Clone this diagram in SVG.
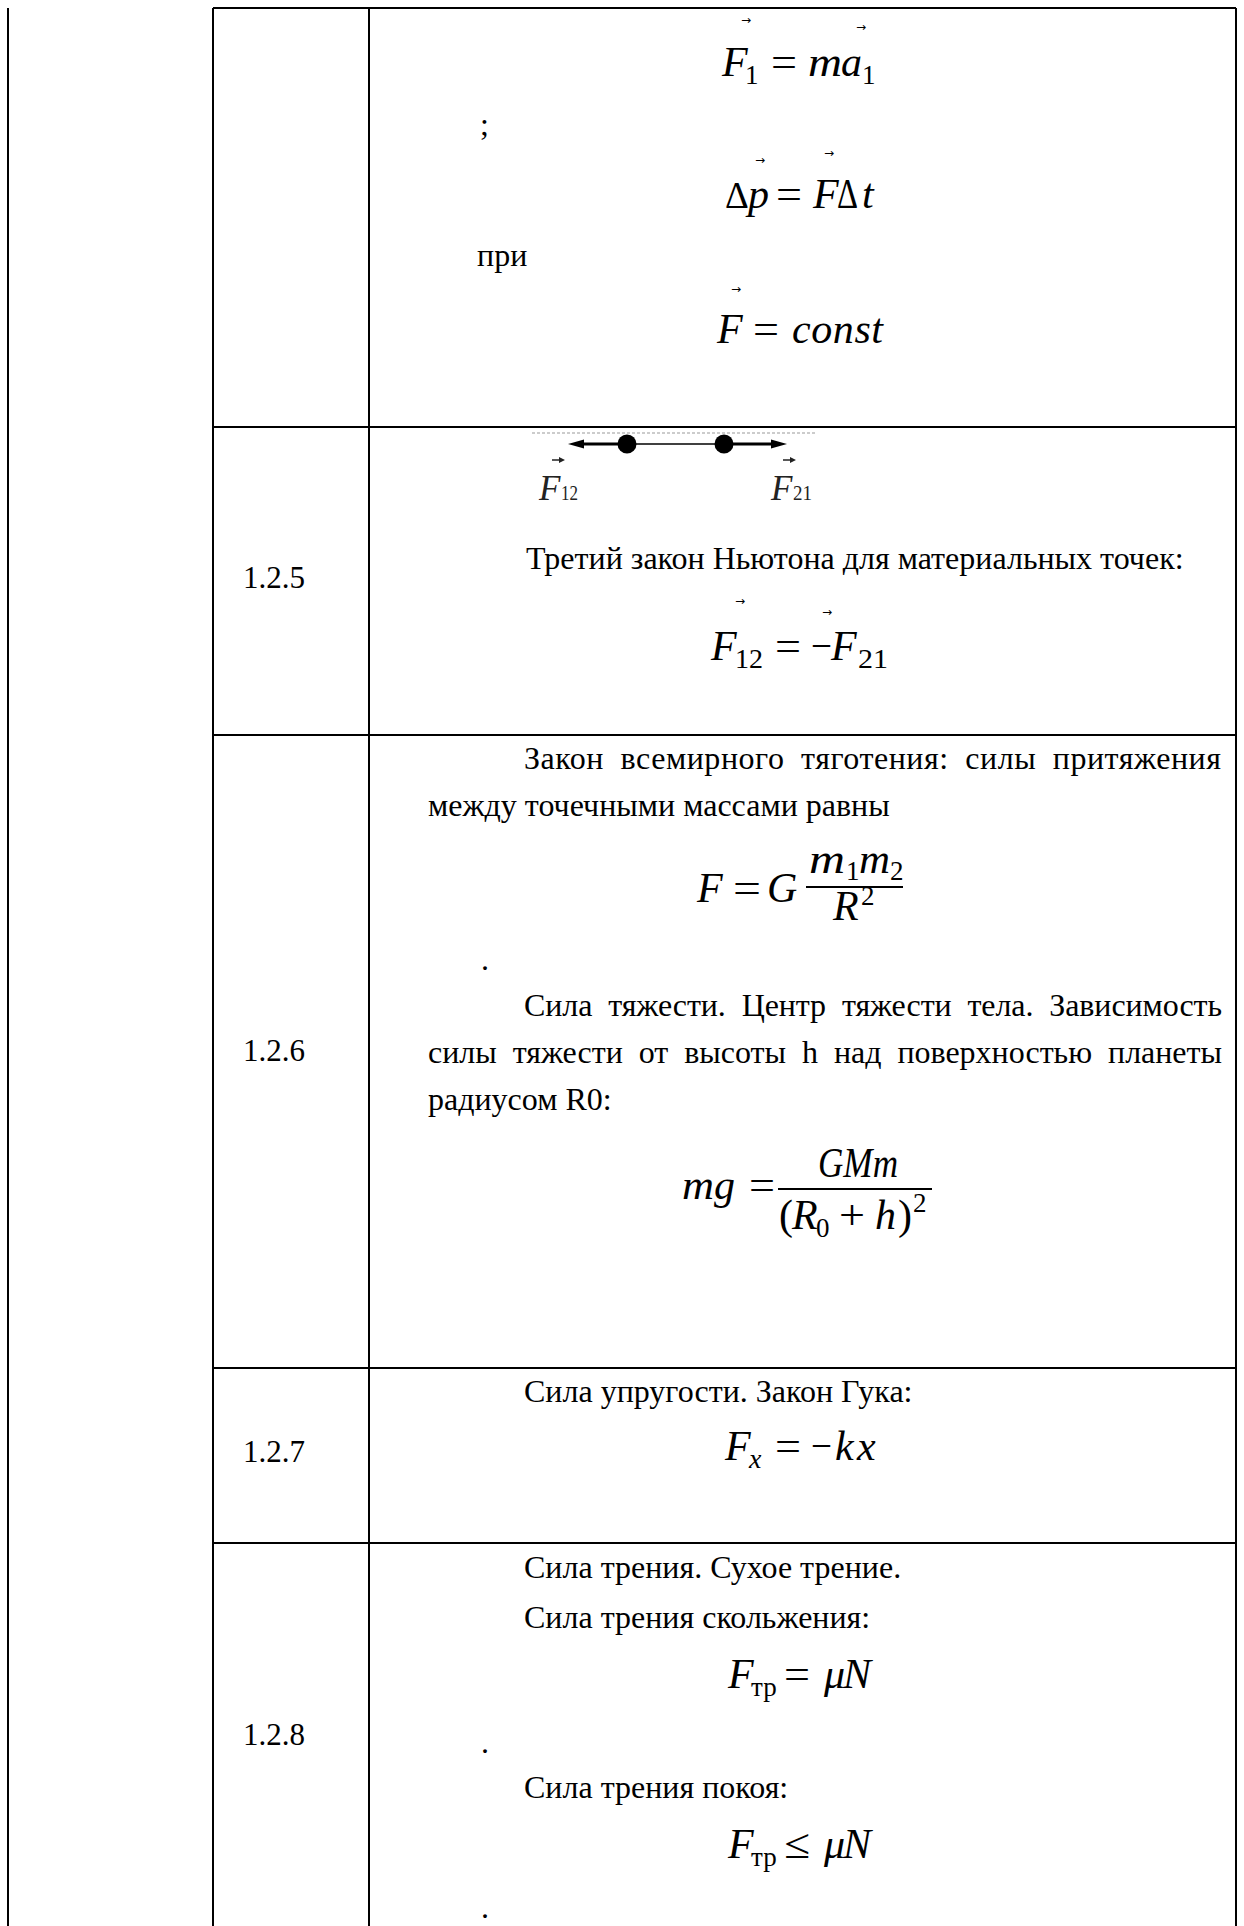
<svg xmlns="http://www.w3.org/2000/svg" width="1244" height="1926" viewBox="0 0 1244 1926">
<style>
.t{font-family:"Liberation Serif","Times New Roman",serif;font-size:32px;fill:#000}
.n{font-family:"Liberation Serif","Times New Roman",serif;font-size:31px;fill:#000}
.m{font-family:"Liberation Serif","Times New Roman",serif;font-style:italic;font-size:42px;fill:#000}
.u{font-family:"Liberation Serif","Times New Roman",serif;font-size:42px;fill:#000}
.s{font-family:"Liberation Serif","Times New Roman",serif;font-size:27px;fill:#000}
.si{font-family:"Liberation Serif","Times New Roman",serif;font-style:italic;font-size:28px;fill:#000}
.ar{font-family:"DejaVu Sans",sans-serif;font-size:12px;fill:#000}
.lbF{font-family:"Liberation Serif","Times New Roman",serif;font-style:italic;font-size:35px;fill:#222}
.lbS{font-family:"Liberation Serif","Times New Roman",serif;font-size:22px;fill:#222}
.grid line{stroke:#000;stroke-width:2}
.bar{stroke:#000;stroke-width:2}
</style>
<rect x="0" y="0" width="1244" height="1926" fill="#fff"/>
<g id="grid" class="grid">
<line x1="8" y1="8" x2="8" y2="1926"/>
<line x1="213" y1="8" x2="1236" y2="8"/>
<line x1="213" y1="8" x2="213" y2="1926"/>
<line x1="369" y1="8" x2="369" y2="1926"/>
<line x1="1236" y1="8" x2="1236" y2="1926"/>
<line x1="213" y1="427" x2="1236" y2="427"/>
<line x1="213" y1="735" x2="1236" y2="735"/>
<line x1="213" y1="1368" x2="1236" y2="1368"/>
<line x1="213" y1="1543" x2="1236" y2="1543"/>
</g>
<g id="row-top">
<text class="m" x="722" y="76">F</text><text class="s" x="745" y="84">1</text>
<text class="u" x="771" y="76" textLength="26" lengthAdjust="spacingAndGlyphs">=</text>
<text class="m" x="808" y="76" textLength="34" lengthAdjust="spacingAndGlyphs">m</text><text class="m" x="841" y="76">a</text><text class="s" x="862" y="84">1</text>
<text class="ar" x="741" y="24">→</text><text class="ar" x="856" y="31">→</text>
<text class="t" x="480" y="135">;</text>
<text y="208"><tspan class="u" x="725" style="font-size:37px">Δ</tspan><tspan class="m" x="748">p</tspan></text>
<text class="u" x="776" y="208" textLength="26" lengthAdjust="spacingAndGlyphs">=</text>
<text class="m" x="813" y="208">F</text><text class="u" x="837" y="208" textLength="21" lengthAdjust="spacingAndGlyphs">Δ</text><text class="m" x="862" y="208">t</text>
<text class="ar" x="755" y="164">→</text><text class="ar" x="824" y="157">→</text>
<text class="t" x="477" y="266">при</text>
<text class="m" x="717" y="343">F</text>
<text class="u" x="753" y="343" textLength="26" lengthAdjust="spacingAndGlyphs">=</text>
<text class="m" x="792" y="343" textLength="91">const</text>
<text class="ar" x="731" y="293">→</text>
</g>
<g id="row-1-2-5">
<text class="n" x="243" y="588">1.2.5</text>
<line x1="532" y1="433" x2="817" y2="433" stroke="#999" stroke-width="1" stroke-dasharray="3 2"/>
<line x1="580" y1="444" x2="627" y2="444" stroke="#000" stroke-width="3"/>
<polygon points="568,444 584,439.5 584,448.5" fill="#000"/>
<line x1="627" y1="444" x2="724" y2="444" stroke="#000" stroke-width="1.5"/>
<line x1="724" y1="444" x2="775" y2="444" stroke="#000" stroke-width="3"/>
<polygon points="787,444 771,439.5 771,448.5" fill="#000"/>
<circle cx="627" cy="444" r="9.5" fill="#000"/>
<circle cx="724" cy="444" r="9.5" fill="#000"/>
<text class="lbF" x="539" y="500">F</text><text class="lbS" x="561" y="500" textLength="17" lengthAdjust="spacingAndGlyphs">12</text>
<path d="M552 460 H561" stroke="#222" stroke-width="1.5"/><polygon points="565,460 559,457 559,463" fill="#222"/>
<text class="lbF" x="771" y="500">F</text><text class="lbS" x="793" y="500" textLength="19" lengthAdjust="spacingAndGlyphs">21</text>
<path d="M783 460 H792" stroke="#222" stroke-width="1.5"/><polygon points="796,460 790,457 790,463" fill="#222"/>
<text class="t" x="526" y="569">Третий закон Ньютона для материальных точек:</text>
<text class="m" x="711" y="660">F</text><text class="s" x="735" y="668" textLength="28" lengthAdjust="spacingAndGlyphs">12</text>
<text class="u" x="775" y="660" textLength="26" lengthAdjust="spacingAndGlyphs">=</text>
<text class="u" x="811" y="660" textLength="21" lengthAdjust="spacingAndGlyphs">−</text>
<text class="m" x="831" y="660">F</text><text class="s" x="858" y="668" textLength="30" lengthAdjust="spacingAndGlyphs">21</text>
<text class="ar" x="735" y="605">→</text><text class="ar" x="822" y="616">→</text>
</g>
<g id="row-1-2-6">
<text class="n" x="243" y="1061">1.2.6</text>
<text class="t" x="524" y="769" textLength="697" lengthAdjust="spacing" word-spacing="8">Закон всемирного тяготения: силы притяжения</text>
<text class="t" x="428" y="816">между точечными массами равны</text>
<text class="m" x="697" y="902">F</text>
<text class="u" x="733" y="902" textLength="28" lengthAdjust="spacingAndGlyphs">=</text>
<text class="m" x="767" y="902">G</text>
<line class="bar" x1="806" y1="887" x2="903" y2="887"/>
<text class="m" x="809" y="873" textLength="36" lengthAdjust="spacingAndGlyphs">m</text><text class="s" x="846" y="880">1</text>
<text class="m" x="859" y="873" textLength="31" lengthAdjust="spacingAndGlyphs">m</text><text class="s" x="890" y="880">2</text>
<text class="m" x="833" y="920">R</text><text class="s" x="861" y="905">2</text>
<text class="t" x="481" y="970">.</text>
<text class="t" x="524" y="1016" textLength="698" lengthAdjust="spacing" word-spacing="8">Сила тяжести. Центр тяжести тела. Зависимость</text>
<text class="t" x="428" y="1063" textLength="794" lengthAdjust="spacing" word-spacing="8">силы тяжести от высоты h над поверхностью планеты</text>
<text class="t" x="428" y="1110">радиусом R0:</text>
<text class="m" x="682" y="1199" textLength="32" lengthAdjust="spacingAndGlyphs">m</text><text class="m" x="714" y="1199">g</text>
<text class="u" x="749" y="1199" textLength="26" lengthAdjust="spacingAndGlyphs">=</text>
<line class="bar" x1="778" y1="1189" x2="932" y2="1189"/>
<text class="m" x="818" y="1177" textLength="80" lengthAdjust="spacingAndGlyphs">GMm</text>
<text class="u" x="779" y="1229">(</text><text class="m" x="792" y="1229">R</text><text class="s" x="816" y="1237">0</text>
<text class="u" x="839" y="1229" textLength="26" lengthAdjust="spacingAndGlyphs">+</text>
<text class="m" x="875" y="1229">h</text><text class="u" x="898" y="1229">)</text><text class="s" x="913" y="1212">2</text>
</g>
<g id="row-1-2-7">
<text class="n" x="243" y="1462">1.2.7</text>
<text class="t" x="524" y="1402">Сила упругости. Закон Гука:</text>
<text class="m" x="725" y="1460">F</text><text class="si" x="749" y="1468">x</text>
<text class="u" x="775" y="1460" textLength="26" lengthAdjust="spacingAndGlyphs">=</text>
<text class="u" x="811" y="1460" textLength="21" lengthAdjust="spacingAndGlyphs">−</text>
<text class="m" x="835" y="1460">k</text><text class="m" x="857" y="1460">x</text>
</g>
<g id="row-1-2-8">
<text class="n" x="243" y="1745">1.2.8</text>
<text class="t" x="524" y="1578">Сила трения. Сухое трение.</text>
<text class="t" x="524" y="1628">Сила трения скольжения:</text>
<text class="m" x="728" y="1688">F</text><text class="s" x="751" y="1696">тр</text>
<text class="u" x="784" y="1688" textLength="26" lengthAdjust="spacingAndGlyphs">=</text>
<text class="m" x="824" y="1688">μ</text><text class="m" x="843" y="1688">N</text>
<text class="t" x="481" y="1753">.</text>
<text class="t" x="524" y="1798">Сила трения покоя:</text>
<text class="m" x="728" y="1858">F</text><text class="s" x="751" y="1866">тр</text>
<text class="u" x="784" y="1858" textLength="26" lengthAdjust="spacingAndGlyphs">≤</text>
<text class="m" x="824" y="1858">μ</text><text class="m" x="843" y="1858">N</text>
<text class="t" x="481" y="1918">.</text>
</g>
</svg>
